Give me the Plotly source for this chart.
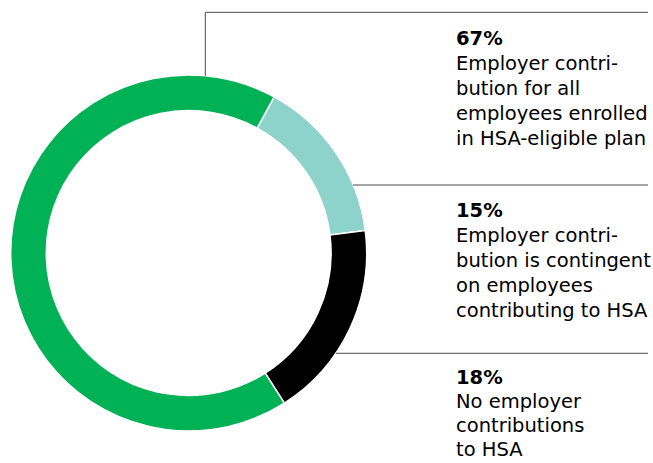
import plotly.graph_objects as go

# Slices in clockwise order starting at the teal segment
labels = ['Contingent', 'None', 'All enrolled']
values = [15, 18, 67]
colors = ['#8dd3cb', '#000000', '#00b156']

# Callout text, top to bottom
callout_pcts = ['67%', '15%', '18%']
callout_lines = [
    ['Employer contri-', 'bution for all', 'employees enrolled', 'in HSA-eligible plan'],
    ['Employer contri-', 'bution is contingent', 'on employees', 'contributing to HSA'],
    ['No employer', 'contributions', 'to HSA'],
]

W, H = 653, 463
cx, cy, R = 188.7, 253, 178

fig = go.Figure()
fig.add_trace(go.Pie(
    labels=labels, values=values,
    marker=dict(colors=colors, line=dict(color='white', width=1.5)),
    hole=0.8, sort=False, direction='clockwise', rotation=28.7,
    textinfo='none', hoverinfo='label+percent', showlegend=False,
    domain=dict(x=[(cx - R) / W, (cx + R) / W], y=[1 - (cy + R) / H, 1 - (cy - R) / H]),
))

# leader lines (pixel coords on hidden axes)
line_style = dict(color='#4d4d4d', width=1)
shapes = [
    dict(type='line', x0=205.3, x1=205.3, y0=12.3, y1=76, line=line_style),
    dict(type='line', x0=205.3, x1=648, y0=12.3, y1=12.3, line=line_style),
    dict(type='line', x0=353, x1=648, y0=185, y1=185, line=line_style),
    dict(type='line', x0=336, x1=648, y0=353.3, y1=353.3, line=line_style),
]

# baseline of each percentage and the line step under it
baselines = [44, 216.7, 383]
steps = [25, 25, 24]
fsize = 19.5
annotations = []
for pct, lines, base, step in zip(callout_pcts, callout_lines, baselines, steps):
    rows = ['<b>' + pct + '</b>'] + lines
    for i, row in enumerate(rows):
        annotations.append(dict(
            x=455, y=base + step * i - 18.5, xref='x', yref='y',
            xanchor='left', yanchor='top', align='left', showarrow=False,
            borderpad=0, text=row,
            font=dict(family='DejaVu Sans', size=fsize, color='#000000'),
        ))

fig.update_layout(
    width=W, height=H,
    margin=dict(l=0, r=0, t=0, b=0),
    paper_bgcolor='white', plot_bgcolor='white',
    xaxis=dict(range=[0, W], visible=False, fixedrange=True),
    yaxis=dict(range=[H, 0], visible=False, fixedrange=True),
    shapes=shapes, annotations=annotations,
)

fig.write_html("out.html", config={'displayModeBar': False},
               post_script="document.body.style.margin='0';")
